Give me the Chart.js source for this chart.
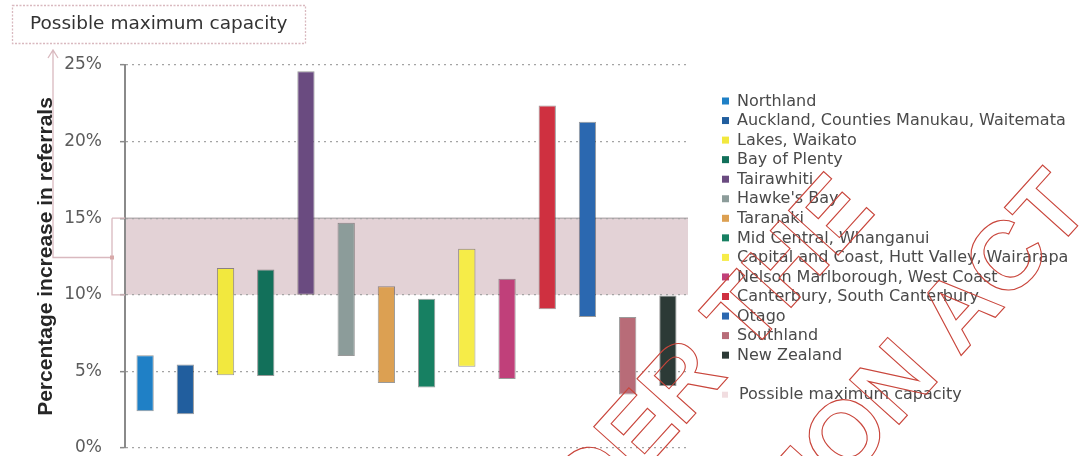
<!DOCTYPE html>
<html><head><meta charset="utf-8">
<script src="https://cdn.jsdelivr.net/npm/chart.js@4.4.1/dist/chart.umd.min.js"></script>
<style>html,body{margin:0;padding:0;background:#fff;overflow:hidden;}</style>
</head><body>
<canvas id="c" width="1090" height="456"></canvas>
<script>
const categories = ['Northland', 'Auckland, Counties Manukau, Waitemata', 'Lakes, Waikato', 'Bay of Plenty', 'Tairawhiti', "Hawke's Bay", 'Taranaki', 'Mid Central, Whanganui', 'Capital and Coast, Hutt Valley, Wairarapa', 'Nelson Marlborough, West Coast', 'Canterbury, South Canterbury', 'Otago', 'Southland', 'New Zealand'];
const lowValues  = [2.4, 2.2, 4.75, 4.7, 10.0, 6.0, 4.25, 3.95, 5.3, 4.5, 9.05, 8.55, 3.5, 4.05];
const highValues = [6.05, 5.45, 11.75, 11.65, 24.6, 14.7, 10.55, 9.75, 13.0, 11.05, 22.35, 21.3, 8.55, 9.95];
const barColors = ['#1f80c6', '#215e9e', '#f2e83e', '#12705a', '#6a4b80', '#8c9c9a', '#dca052', '#178062', '#f6ec48', '#c0407a', '#cf3040', '#2b68b0', '#b86c78', '#2c3a36'];
const bandRange = [10, 15];
const bandLabel = 'Possible maximum capacity';
const chartTitle = 'Possible maximum capacity';
const yAxisTitle = 'Percentage increase in referrals';
const yMin = 0, yMax = 25, yStep = 5;
const watermarkLines = ['RELEASED UNDER THE', 'OFFICIAL INFORMATION ACT'];

const bandColor = '#e3d2d6';
const accent = '#d9b9bf';

const decorPlugin = {
  id: 'decor',
  beforeDraw(chart) {
    const {ctx, chartArea, scales: {y}} = chart;
    const yTop = y.getPixelForValue(bandRange[1]);
    const yBot = y.getPixelForValue(bandRange[0]);
    ctx.save();
    ctx.fillStyle = bandColor;
    ctx.fillRect(chartArea.left, yTop, chartArea.right - chartArea.left, yBot - yTop);
    ctx.strokeStyle = '#b9b0b3';
    ctx.lineWidth = 1.5;
    ctx.beginPath();
    ctx.moveTo(chartArea.left, yTop); ctx.lineTo(chartArea.right, yTop);
    ctx.stroke();
    ctx.restore();
  },
  afterDraw(chart) {
    const {ctx, chartArea, scales: {y}} = chart;
    const yTop = y.getPixelForValue(bandRange[1]);
    const yBot = y.getPixelForValue(bandRange[0]);
    const L = chartArea.left;
    ctx.save();
    // title box
    ctx.strokeStyle = accent;
    ctx.lineWidth = 1.3;
    ctx.setLineDash([2, 1.5]);
    ctx.strokeRect(12.5, 5.5, 293, 38);
    ctx.setLineDash([]);
    ctx.fillStyle = '#333';
    ctx.font = '18.5px "DejaVu Sans"';
    ctx.textBaseline = 'middle';
    ctx.textAlign = 'left';
    ctx.fillText(chartTitle, 30, 24);
    // annotation arrow & bracket
    const midY = (yTop + yBot) / 2 + 1;
    ctx.strokeStyle = accent;
    ctx.lineWidth = 1.3;
    ctx.beginPath();
    ctx.moveTo(L - 13, yTop); ctx.lineTo(L - 13, yBot); ctx.lineTo(L, yBot);
    ctx.moveTo(L - 13, yTop); ctx.lineTo(L, yTop);
    ctx.moveTo(L - 13, midY); ctx.lineTo(53, midY); ctx.lineTo(53, 50);
    ctx.moveTo(48, 58); ctx.lineTo(53, 50); ctx.lineTo(58, 58);
    ctx.stroke();
    ctx.fillStyle = '#d8a9a9';
    ctx.fillRect(L - 15, midY - 2, 4, 4);
    // legend
    ctx.font = '16px "DejaVu Sans"';
    ctx.textBaseline = 'middle';
    const lx = 722, ly0 = 101, step = 19.55;
    categories.forEach((name, i) => {
      const yy = ly0 + i * step;
      ctx.fillStyle = barColors[i];
      ctx.fillRect(lx, yy - 3.5, 7, 7);
      ctx.fillStyle = '#4a4a4a';
      ctx.fillText(name, lx + 15, yy + 0.5);
    });
    const yy = ly0 + categories.length * step + 20;
    ctx.fillStyle = '#f1dde0';
    ctx.fillRect(lx, yy - 3, 6, 6);
    ctx.fillStyle = '#4a4a4a';
    ctx.fillText(bandLabel, lx + 17, yy + 0.5);
    // watermark
    const ang = -48 * Math.PI / 180;
    ctx.strokeStyle = '#c9453b';
    ctx.lineWidth = 1.1;
    ctx.font = 'bold 97px "Liberation Sans"';
    ctx.textAlign = 'right';
    ctx.textBaseline = 'alphabetic';
    const anchors = [[877, 212], [1093, 209]];
    watermarkLines.forEach((t, i) => {
      ctx.save();
      ctx.translate(anchors[i][0], anchors[i][1]);
      ctx.rotate(ang);
      ctx.strokeText(t, 0, 0);
      ctx.restore();
    });
    ctx.restore();
  }
};

new Chart(document.getElementById('c'), {
  type: 'bar',
  data: {
    labels: categories,
    datasets: [{
      label: 'Referral increase',
      data: categories.map((c, i) => [lowValues[i], highValues[i]]),
      backgroundColor: barColors,
      borderColor: 'rgba(30,30,30,0.45)',
      borderWidth: 1,
      borderSkipped: false,
      barPercentage: 0.43,
      categoryPercentage: 1
    }]
  },
  options: {
    responsive: false,
    animation: false,
    devicePixelRatio: 1,
    layout: {padding: {left: 0, right: 402, top: 65, bottom: 8}},
    plugins: {legend: {display: false}, title: {display: false}, tooltip: {enabled: false}},
    scales: {
      x: {display: false, offset: true, grid: {display: false}},
      y: {
        min: yMin, max: yMax,
        ticks: {stepSize: yStep, callback: v => v + '%', color: '#5c5c5c', font: {family: 'DejaVu Sans', size: 17}, padding: 18},
        grid: {color: '#a4a4a4', lineWidth: 1.3, tickLength: 5, tickColor: '#8a8a8a', tickWidth: 1.5},
        border: {color: '#8a8a8a', width: 2, dash: [2, 4]},
        title: {display: true, text: yAxisTitle, color: '#262626', font: {family: 'Liberation Sans', size: 21, weight: 'bold'}, padding: {top: 34, bottom: 0}},
        afterFit(scale) { scale.width = 125; scale.paddingTop = 0; scale.paddingBottom = 0; }
      }
    }
  },
  plugins: [decorPlugin]
});
</script>
</body></html>
